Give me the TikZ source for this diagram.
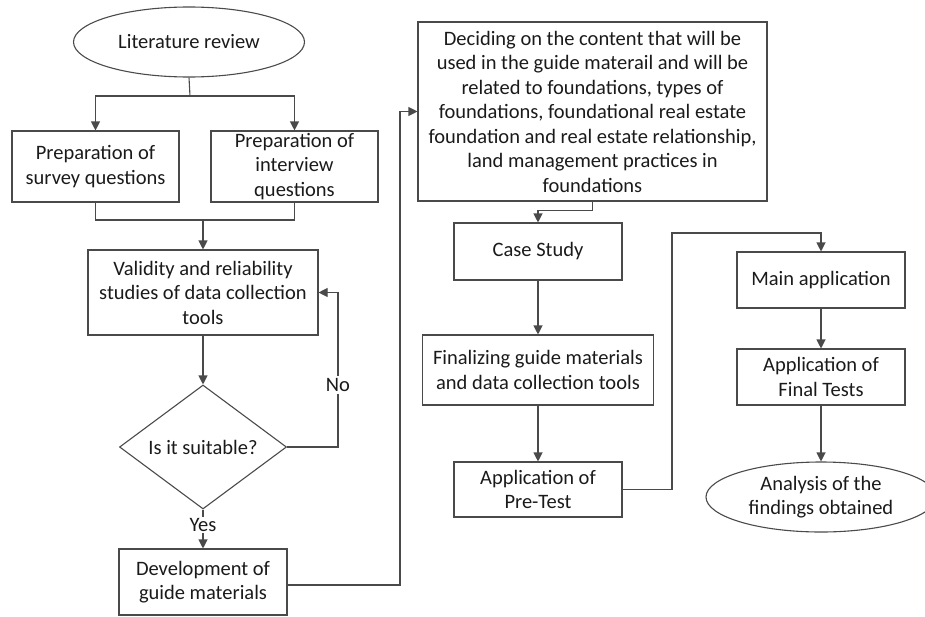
\documentclass[tikz,border=0pt]{standalone}
\usepackage{fontspec}
\setmainfont{Carlito}
\usetikzlibrary{shapes.geometric,arrows.meta}
\definecolor{linegray}{HTML}{4A4A4A}
\definecolor{textgray}{HTML}{1A1A1A}
\begin{document}
\begin{tikzpicture}[x=1pt,y=-1pt,
  every node/.style={align=center, text=textgray, font=\fontsize{20.5}{24.5}\selectfont},
  box/.style={shape=rectangle, draw=linegray, line width=1.1pt, inner sep=0pt},
  oval/.style={shape=ellipse, draw=linegray, line width=1.1pt, inner sep=0pt},
  decision/.style={shape=diamond, draw=linegray, line width=1.1pt, inner sep=0pt},
  arr/.style={draw=linegray, line width=1.1pt, -{Triangle[length=9pt,width=9pt]}},
  conn/.style={draw=linegray, line width=1.1pt}]
\useasboundingbox (0,0) rectangle (925,616);
% left column
\node[oval, minimum width=231pt, minimum height=70pt] (lit) at (189,42) {Literature review};
\node[box, minimum width=167pt, minimum height=71pt] (survey) at (95.5,166.5) {Preparation of\\survey questions};
\node[box, minimum width=167pt, minimum height=71pt] (interview) at (294.5,166.5) {Preparation of\\interview\\questions};
\node[box, minimum width=230pt, minimum height=85pt] (valid) at (203,292.5) {Validity and reliability\\studies of data collection\\tools};
\node[decision, minimum width=167pt, minimum height=124pt] (suit) at (203,447) {Is it suitable?};
\node[box, minimum width=168pt, minimum height=66pt] (dev) at (203,582) {Development of\\guide materials};
% middle column
\node[box, minimum width=349pt, minimum height=179pt] (decide) at (592.5,111.5) {Deciding on the content that will be\\used in the guide materail and will be\\related to foundations, types of\\foundations, foundational real estate\\foundation and real estate relationship,\\land management practices in\\foundations};
\node[box, minimum width=168pt, minimum height=57pt] (case) at (538,251.5) {Case Study};
\node[box, minimum width=231pt, minimum height=70pt] (final) at (538,370) {Finalizing guide materials\\and data collection tools};
\node[box, minimum width=168pt, minimum height=55pt] (pretest) at (538,489.5) {Application of\\Pre-Test};
% right column
\node[box, minimum width=168pt, minimum height=56pt] (main) at (821,280) {Main application};
\node[box, minimum width=168pt, minimum height=56pt] (tests) at (821,377) {Application of\\Final Tests};
\node[oval, minimum width=230pt, minimum height=70pt] (analysis) at (821,497) {Analysis of the\\findings obtained};
% joints
\coordinate (split) at (190,96);
\coordinate (merge) at (203,220);
\coordinate (loop) at (338,447);
\coordinate (up) at (400,585);
\coordinate (over) at (672,233);
% connectors
\draw[conn] (lit.south) -- (split);
\draw[arr] (split) -| (survey.north);
\draw[arr] (split) -| (interview.north);
\draw[conn] (survey.south) |- (merge) -| (interview.south);
\draw[arr] (merge) -- (valid.north);
\draw[arr] (valid.south) -- (suit.north);
\draw[arr] (suit.east) -- (loop) |- (valid.east);
\node[fill=white, inner sep=2pt] (no) at (338,385) {No};
\draw[arr] (suit.south) -- (dev.north);
\node[fill=white, inner sep=1pt] (yes) at (203,525) {Yes};
\draw[arr] (dev.east |- up) -- (up) |- (decide.west);
\draw[arr] (decide.south) -- ++(0,9) -| (case.north);
\draw[arr] (case.south) -- (final.north);
\draw[arr] (final.south) -- (pretest.north);
\draw[arr] (pretest.east) -| (over) -| (main.north);
\draw[arr] (main.south) -- (tests.north);
\draw[arr] (tests.south) -- (analysis.north);
\end{tikzpicture}
\end{document}
